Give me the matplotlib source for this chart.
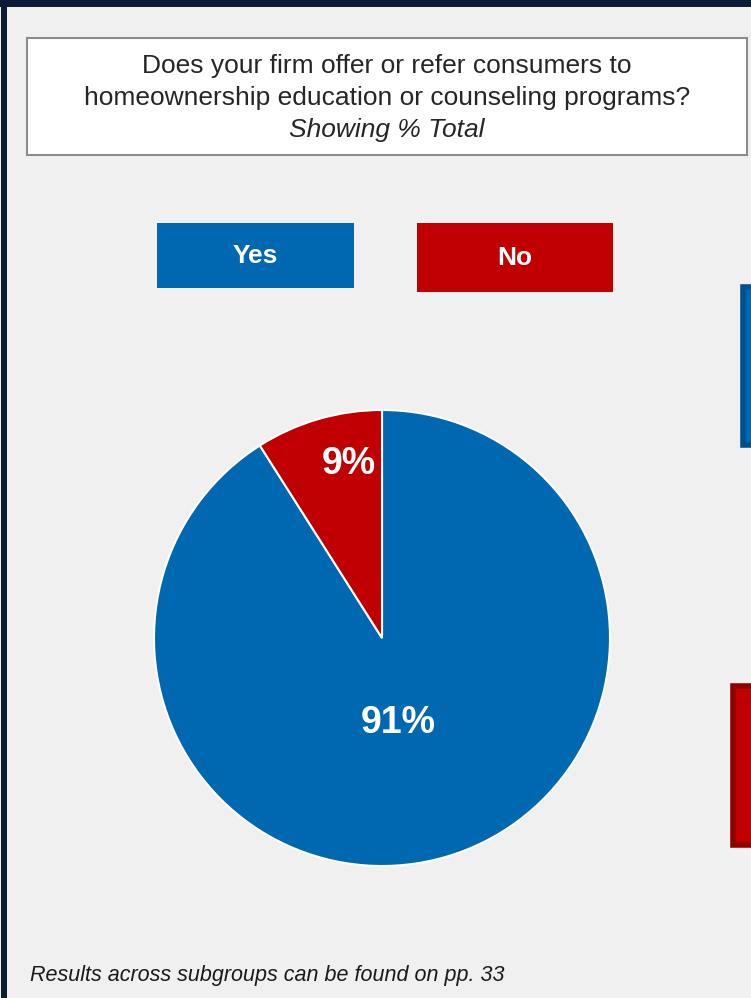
import numpy as np
import matplotlib.pyplot as plt
from matplotlib.patches import Rectangle

plt.rcParams['font.family'] = ['Liberation Sans', 'DejaVu Sans']

# survey answers
answers = ['Yes', 'No']
shares = [91, 9]
colors = ['#0068b0', '#c00000']

title_lines = ['Does your firm offer or refer consumers to',
               'homeownership education or counseling programs?']
subtitle = 'Showing % Total'
footnote = 'Results across subgroups can be found on pp. 33'

W, H = 751, 998
fig = plt.figure(figsize=(W / 100, H / 100), dpi=100)
fig.patch.set_facecolor('#f0f0f0')
ax = fig.add_axes([0, 0, 1, 1])
ax.set_xlim(0, W)
ax.set_ylim(0, H)
ax.axis('off')


def py(y):
    # pixel row measured from the top -> data y
    return H - y


# dark frame on the top and left edges
ax.add_patch(Rectangle((0, py(7)), W, 7, color='#0c1c36', lw=0))
ax.add_patch(Rectangle((1, 0), 6, H, color='#0c1c36', lw=0))

# question box
ax.add_patch(Rectangle((27, py(155)), 720, 117, facecolor='white',
                       edgecolor='#8c8c8c', lw=1.5))
ax.text(387, py(66), title_lines[0], ha='center', va='center',
        fontsize=19, color='#262626')
ax.text(387, py(98), title_lines[1], ha='center', va='center',
        fontsize=19, color='#262626')
ax.text(387, py(130), subtitle, ha='center', va='center',
        fontsize=19, style='italic', color='#262626')

# legend tiles
tiles = [(157, 223, 197, 65), (417, 223, 196, 69)]
for (x, y, w, h), name, c in zip(tiles, answers, colors):
    ax.add_patch(Rectangle((x, py(y + h)), w, h, color=c, lw=0))
    ax.text(x + w / 2, py(y + h / 2), name, ha='center', va='center',
            fontsize=19, fontweight='bold', color='white')

# pieces of the neighbouring panel cut off at the right edge
ax.add_patch(Rectangle((743, py(445)), 20, 158, facecolor='#0068b0',
                       edgecolor='#00508f', lw=4))
ax.add_patch(Rectangle((733, py(845)), 30, 159, facecolor='#c00000',
                       edgecolor='#900000', lw=4))

cx, cy, r = 382, py(638), 228
wedges, _ = ax.pie(shares, colors=colors, startangle=90, counterclock=False,
                   center=(cx, cy), radius=r, frame=True,
                   wedgeprops=dict(edgecolor='white', linewidth=1.5))
ax.set_xlim(0, W)
ax.set_ylim(0, H)
ax.axis('off')

# percentage labels inside each slice
label_dist = [0.38, 0.775]
label_turn = -5.4
for wdg, val, d in zip(wedges, shares, label_dist):
    mid = np.deg2rad((wdg.theta1 + wdg.theta2) / 2 + label_turn)
    ax.text(cx + d * r * np.cos(mid), cy + d * r * np.sin(mid), f'{val}%',
            ha='center', va='center', fontsize=27, fontweight='bold',
            color='white')

ax.text(30, py(975), footnote, ha='left', va='center', fontsize=15.5,
        style='italic', color='#1a1a1a')

fig.savefig('out.png', dpi=100, facecolor=fig.get_facecolor())
